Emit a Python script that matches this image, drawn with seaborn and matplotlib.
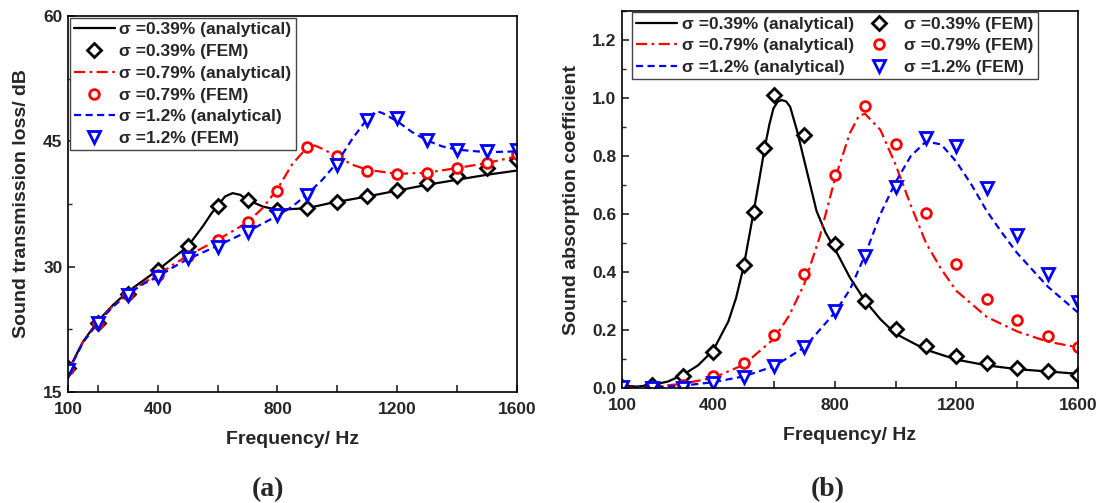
import numpy as np
import pandas as pd
import matplotlib
matplotlib.use('Agg')
import matplotlib.pyplot as plt
from matplotlib.ticker import MultipleLocator, FixedLocator
import seaborn as sns

# ---- (a) sound transmission loss ----
fem_f = [100, 200, 300, 400, 500, 600, 700, 800, 900, 1000, 1100, 1200, 1300, 1400, 1500, 1600]
stl_fem_039 = [17.9, 23.3, 26.7, 29.6, 32.5, 37.3, 38.0, 36.8, 37.0, 37.7, 38.4, 39.2, 40.0, 40.85, 41.8, 42.8]
stl_fem_079 = [17.8, 23.3, 26.7, 29.0, 31.3, 33.2, 35.4, 39.0, 44.3, 43.25, 41.5, 41.1, 41.25, 41.8, 42.4, 43.5]
stl_fem_12 = [17.6, 23.2, 26.6, 28.8, 31.0, 32.4, 34.2, 36.2, 38.6, 42.2, 47.5, 47.8, 45.1, 44.0, 43.8, 44.0]

stl_f_039 = [100, 150, 200, 250, 300, 350, 400, 450, 500, 550, 580, 600, 625, 650, 675, 700, 750,
             800, 850, 900, 975, 1100, 1200, 1300, 1400, 1500, 1600]
stl_039 = [17.5, 21.0, 23.5, 25.4, 27.0, 28.3, 29.6, 31.0, 32.4, 34.8, 36.4, 37.3, 38.4, 38.8,
           38.6, 38.0, 37.2, 36.8, 36.9, 37.0, 37.6, 38.4, 39.1, 39.8, 40.4, 41.0, 41.5]
stl_f_079 = [100, 150, 200, 250, 300, 350, 400, 450, 500, 600, 700, 750, 800, 850, 900, 925, 950,
             1000, 1050, 1100, 1200, 1300, 1400, 1500, 1600]
stl_079 = [17.5, 21.0, 23.4, 25.3, 26.8, 28.0, 29.0, 30.2, 31.3, 33.2, 35.3, 37.0, 39.3, 42.3, 44.3,
           44.5, 44.1, 43.2, 42.2, 41.6, 41.1, 41.25, 41.8, 42.4, 43.2]
stl_f_12 = [100, 150, 200, 250, 300, 350, 400, 450, 500, 600, 700, 800, 850, 900, 950, 1000, 1050,
            1100, 1130, 1150, 1200, 1250, 1300, 1350, 1400, 1500, 1600]
stl_12 = [17.4, 20.9, 23.3, 25.2, 26.7, 27.9, 28.8, 29.9, 30.9, 32.5, 34.2, 36.1, 37.2, 38.7, 40.4,
          42.5, 45.3, 47.7, 48.6, 48.4, 47.4, 46.1, 45.1, 44.4, 44.0, 43.7, 43.8]

# ---- (b) sound absorption coefficient ----
sac_fem_f_039 = [100, 200, 300, 400, 500, 533, 567, 600, 700, 800, 900, 1000, 1100, 1200, 1300, 1400, 1500, 1600]
sac_fem_039 = [0.005, 0.011, 0.04, 0.125, 0.423, 0.606, 0.827, 1.012, 0.873, 0.497, 0.301, 0.205,
               0.146, 0.110, 0.085, 0.068, 0.057, 0.046]
sac_fem_079 = [0.0, 0.003, 0.011, 0.04, 0.085, 0.184, 0.392, 0.736, 0.973, 0.842, 0.605, 0.427,
               0.307, 0.233, 0.179, 0.14]
sac_fem_12 = [0.005, 0.0, 0.0, 0.017, 0.037, 0.076, 0.14, 0.265, 0.455, 0.694, 0.861, 0.836,
              0.688, 0.527, 0.392, 0.296]

sac_f_039 = [100, 150, 200, 250, 300, 350, 400, 450, 475, 500, 532, 550, 570, 585, 598, 612, 625,
             640, 653, 675, 707, 740, 770, 800, 850, 900, 950, 1000, 1100, 1200, 1300, 1400, 1500, 1600]
sac_039 = [0.008, 0.005, 0.011, 0.022, 0.045, 0.078, 0.13, 0.23, 0.31, 0.418, 0.602, 0.71, 0.832,
           0.91, 0.964, 0.987, 0.993, 0.988, 0.97, 0.89, 0.752, 0.61, 0.535, 0.48, 0.38, 0.3,
           0.237, 0.187, 0.132, 0.098, 0.078, 0.065, 0.057, 0.049]
sac_f_079 = [100, 200, 300, 400, 500, 600, 650, 700, 750, 800, 850, 880, 900, 950, 1000, 1050, 1100,
             1150, 1200, 1300, 1400, 1500, 1600]
sac_079 = [0.0, 0.003, 0.015, 0.035, 0.08, 0.17, 0.25, 0.36, 0.52, 0.72, 0.88, 0.94, 0.945, 0.89,
           0.77, 0.63, 0.5, 0.41, 0.335, 0.245, 0.195, 0.16, 0.14]
sac_f_12 = [100, 200, 300, 400, 500, 600, 700, 800, 850, 900, 950, 1000, 1050, 1100, 1150, 1200,
            1250, 1300, 1350, 1400, 1500, 1600]
sac_12 = [0.0, 0.002, 0.008, 0.02, 0.04, 0.075, 0.14, 0.26, 0.34, 0.46, 0.6, 0.71, 0.8, 0.85, 0.84,
          0.78, 0.7, 0.61, 0.535, 0.465, 0.35, 0.26]

labels = ['\u03c3 =0.39% (analytical)', '\u03c3 =0.39% (FEM)',
          '\u03c3 =0.79% (analytical)', '\u03c3 =0.79% (FEM)',
          '\u03c3 =1.2% (analytical)', '\u03c3 =1.2% (FEM)']

sns.set_style('ticks')
plt.rcParams['font.family'] = ['Liberation Sans', 'DejaVu Sans']
plt.rcParams['font.weight'] = 'bold'
plt.rcParams['axes.labelweight'] = 'bold'
plt.rcParams['axes.linewidth'] = 1.2
plt.rcParams['xtick.direction'] = 'in'
plt.rcParams['ytick.direction'] = 'in'

fig = plt.figure(figsize=(11.05, 5.03), dpi=100)
ax1 = fig.add_axes([0.0615, 0.2207, 0.4063, 0.7475])
ax2 = fig.add_axes([0.5629, 0.2286, 0.4127, 0.7495])

red_dash = (5, 2, 1.2, 2)
blue_dash = (3.2, 2)


def draw_panel(ax, curves, fems):
    # curves: (f, y, colour, dashes); fems: (f, y, colour, marker, size)
    handles = []
    for (f, y, c, d), (ff, fy, fc, mk, ms) in zip(curves, fems):
        df = pd.DataFrame({'f': f, 'y': y})
        sns.lineplot(data=df, x='f', y='y', ax=ax, color=c, linewidth=1.6,
                     estimator=None, sort=False)
        ln = ax.lines[-1]
        if d is not None:
            ln.set_dashes(d)
        dfm = pd.DataFrame({'f': ff, 'y': fy})
        sns.lineplot(data=dfm, x='f', y='y', ax=ax, color=fc, linestyle='', marker=mk,
                     markersize=ms, markerfacecolor='white', markeredgecolor=fc,
                     markeredgewidth=2, estimator=None, sort=False)
        handles += [ln, ax.lines[-1]]
    return handles


curves_a = [(stl_f_039, stl_039, 'black', None), (stl_f_079, stl_079, 'red', red_dash),
            (stl_f_12, stl_12, 'blue', blue_dash)]
fems_a = [(fem_f, stl_fem_039, 'black', 'D', 7), (fem_f, stl_fem_079, 'red', 'o', 7),
          (fem_f, stl_fem_12, 'blue', 'v', 8)]
curves_b = [(sac_f_039, sac_039, 'black', None), (sac_f_079, sac_079, 'red', red_dash),
            (sac_f_12, sac_12, 'blue', blue_dash)]
fems_b = [(sac_fem_f_039, sac_fem_039, 'black', 'D', 7), (fem_f, sac_fem_079, 'red', 'o', 7),
          (fem_f, sac_fem_12, 'blue', 'v', 8)]

h_a = draw_panel(ax1, curves_a, fems_a)
h_b = draw_panel(ax2, curves_b, fems_b)

for ax in (ax1, ax2):
    ax.set_xlim(100, 1600)
    ax.xaxis.set_major_locator(FixedLocator([100, 200, 400, 600, 800, 1000, 1200, 1400, 1600]))
    ax.set_xticklabels(['100', '', '400', '', '800', '', '1200', '', '1600'])
    ax.tick_params(axis='both', which='major', length=5, width=1.2, labelsize=12.5,
                   top=False, right=False)
    ax.tick_params(axis='x', which='major', pad=7)
    ax.tick_params(axis='y', which='major', pad=4)
    ax.tick_params(axis='y', which='minor', length=3, width=1.0)
    for s in ax.spines.values():
        s.set_visible(True)
        s.set_color('black')
    ax.set_xlabel('Frequency/ Hz', fontsize=14, labelpad=10)

ax1.set_ylim(15, 60)
ax1.yaxis.set_major_locator(MultipleLocator(15))
ax1.yaxis.set_minor_locator(MultipleLocator(7.5))
ax1.set_ylabel('Sound transmission loss/ dB', fontsize=14, labelpad=9)

ax2.set_ylim(0, 1.3)
ax2.yaxis.set_major_locator(FixedLocator([0.0, 0.2, 0.4, 0.6, 0.8, 1.0, 1.2]))
ax2.yaxis.set_minor_locator(MultipleLocator(0.1))
ax2.set_yticklabels(['0.0', '0.2', '0.4', '0.6', '0.8', '1.0', '1.2'])
ax2.set_ylabel('Sound absorption coefficient', fontsize=14, labelpad=9)

for ax in (ax1, ax2):
    for t in ax.get_xticklabels() + ax.get_yticklabels():
        t.set_fontweight('bold')

leg_font = {'weight': 'bold', 'size': 12.5}
leg1 = ax1.legend(h_a, labels, loc='upper left', bbox_to_anchor=(0.004, 0.995), prop=leg_font,
                  handlelength=2.35, labelspacing=0.38, borderpad=0.25, borderaxespad=0.0,
                  handletextpad=0.25, frameon=True, fancybox=False, framealpha=1)
leg1.get_frame().set_edgecolor('#444444')
leg1.get_frame().set_linewidth(1.0)

order_b = [h_b[0], h_b[2], h_b[4], h_b[1], h_b[3], h_b[5]]
labels_b = [labels[0], labels[2], labels[4], labels[1], labels[3], labels[5]]
leg2 = ax2.legend(order_b, labels_b, loc='upper left', bbox_to_anchor=(0.022, 0.997), ncol=2,
                  prop=leg_font, handlelength=2.35, labelspacing=0.38, borderpad=0.25,
                  borderaxespad=0.0, handletextpad=0.25, columnspacing=0.3, frameon=True,
                  fancybox=False, framealpha=1)
leg2.get_frame().set_edgecolor('#444444')
leg2.get_frame().set_linewidth(1.0)

fig.text(268 / 1105, 1 - 490 / 503, '(a)', fontsize=20, fontweight='bold',
         family='Liberation Serif', ha='center', va='center')
fig.text(828 / 1105, 1 - 490 / 503, '(b)', fontsize=20, fontweight='bold',
         family='Liberation Serif', ha='center', va='center')

fig.savefig('out.png', dpi=100)
